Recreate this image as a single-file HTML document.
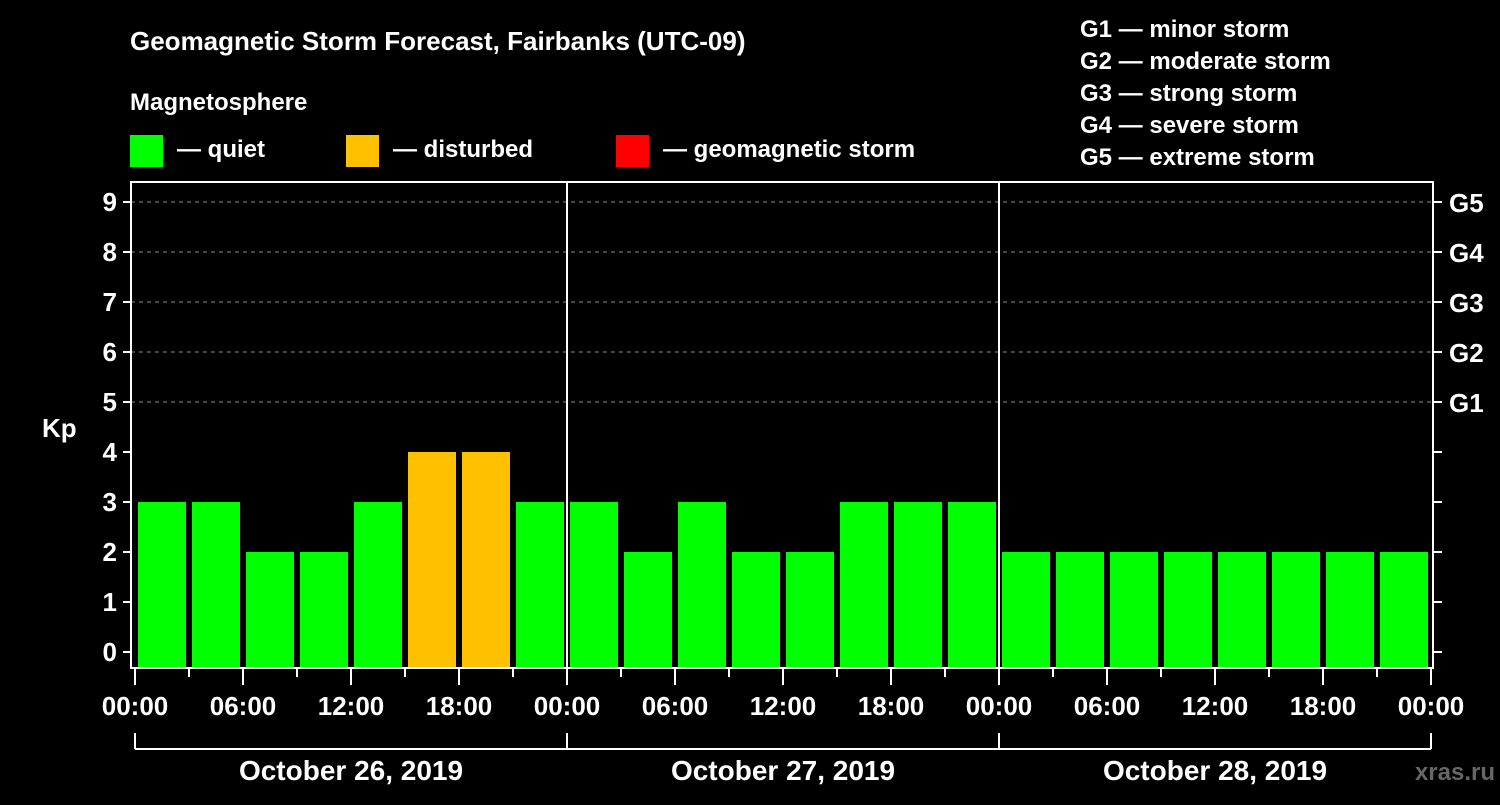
<!DOCTYPE html>
<html><head><meta charset="utf-8"><style>
body{margin:0;background:#000;}
svg text{font-family:"Liberation Sans",sans-serif;font-weight:bold;fill:#fff;}
</style></head><body>
<svg id="c" width="1500" height="800" viewBox="0 0 1500 800">
<rect x="0" y="0" width="1500" height="800" fill="#000"/>
<text x="130" y="50" font-size="26">Geomagnetic Storm Forecast, Fairbanks (UTC-09)</text>
<text x="130" y="110" font-size="24">Magnetosphere</text>
<g><rect x="130" y="135" width="33" height="32" fill="#00ff00"/><text x="177" y="157" font-size="24">— quiet</text></g>
<g><rect x="346" y="135" width="33" height="32" fill="#ffc000"/><text x="393" y="157" font-size="24">— disturbed</text></g>
<g><rect x="616" y="135" width="33" height="32" fill="#ff0000"/><text x="663" y="157" font-size="24">— geomagnetic storm</text></g>
<g font-size="24">
<text x="1080" y="37">G1 — minor storm</text>
<text x="1080" y="69">G2 — moderate storm</text>
<text x="1080" y="101">G3 — strong storm</text>
<text x="1080" y="133">G4 — severe storm</text>
<text x="1080" y="165">G5 — extreme storm</text>
</g>
<text x="42" y="437" font-size="26">Kp</text>
<text x="1495" y="780" font-size="24" text-anchor="end" fill="#666" style="fill:#666">xras.ru</text>
<g id="plot"></g>
</svg>
<script>
const kpValues=[3,3,2,2,3,4,4,3, 3,2,3,2,2,3,3,3, 2,2,2,2,2,2,2,2];
const dayLabels=["October 26, 2019","October 27, 2019","October 28, 2019"];
const hourLabels=["00:00","06:00","12:00","18:00"];
const gLabels=["G1","G2","G3","G4","G5"];
const X0=135, DAYW=432, L=131, R=1433, T=182, B=668;
const xh=h=>X0+h*DAYW/24;
const yk=k=>652-50*k;
const NS="http://www.w3.org/2000/svg";
const g=document.getElementById('plot');
function mk(tag,attrs){const e=document.createElementNS(NS,tag);for(const k in attrs)e.setAttribute(k,attrs[k]);g.appendChild(e);return e;}
// grid
for(let k=5;k<=9;k++){const l=mk('line',{x1:L,x2:R,y1:yk(k),y2:yk(k),stroke:'#888','stroke-dasharray':'4,4','stroke-width':1});

}
// bars
kpValues.forEach((v,i)=>{
 const c=v>=5?'#ff0000':(v>=4?'#ffc000':'#00ff00');
 const r=mk('rect',{x:xh(i*3)+3,width:48,y:yk(v),height:B-yk(v),fill:c});
 
 
});
// day separators
for(let d=1;d<dayLabels.length;d++){const l=mk('line',{x1:xh(d*24),x2:xh(d*24),y1:T,y2:B,stroke:'#fff','stroke-width':2});

}
// frame
const f=mk('rect',{x:L,y:T,width:R-L,height:B-T,fill:'none',stroke:'#fff','stroke-width':2});


// y ticks
for(let k=0;k<=9;k++){
 mk('line',{x1:L-8,x2:L,y1:yk(k),y2:yk(k),stroke:'#fff','stroke-width':2});
 mk('line',{x1:R,x2:R+9,y1:yk(k),y2:yk(k),stroke:'#fff','stroke-width':2});
 const t=mk('text',{x:L-14,y:yk(k)+9,'text-anchor':'end','font-size':26});t.textContent=k;
 
 
}
gLabels.forEach((s,i)=>{const t=mk('text',{x:1449,y:yk(5+i)+10,'font-size':26});t.textContent=s;
 
 });
// x ticks
const nd=dayLabels.length;
for(let h=0;h<=nd*24;h+=3){
 const major=h%6===0;
 mk('line',{x1:xh(h),x2:xh(h),y1:B,y2:B+(major?17:9),stroke:'#fff','stroke-width':2});
 if(major){const t=mk('text',{x:xh(h),y:715,'text-anchor':'middle','font-size':26});t.textContent=hourLabels[(h/6)%4];
 
 }
}
// day brackets
mk('line',{x1:xh(0),x2:xh(nd*24),y1:749,y2:749,stroke:'#fff','stroke-width':2});
for(let d=0;d<=nd;d++)mk('line',{x1:xh(d*24),x2:xh(d*24),y1:733,y2:749,stroke:'#fff','stroke-width':2});
dayLabels.forEach((s,d)=>{const t=mk('text',{x:xh(d*24+12),y:780,'text-anchor':'middle','font-size':28});t.textContent=s;
 
 });
</script>
</body></html>
